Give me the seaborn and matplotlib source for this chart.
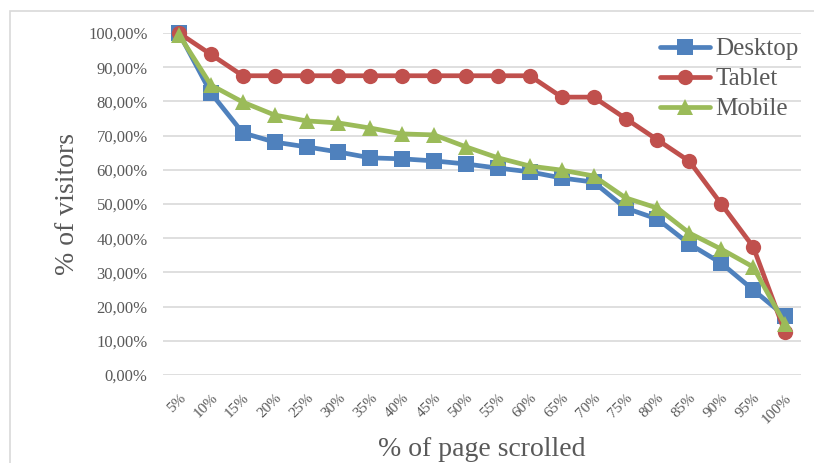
import matplotlib
matplotlib.use("Agg")
import matplotlib.pyplot as plt
import seaborn as sns
import pandas as pd
from matplotlib.patches import Rectangle
from matplotlib.ticker import FuncFormatter

categories = ["5%", "10%", "15%", "20%", "25%", "30%", "35%", "40%", "45%", "50%",
              "55%", "60%", "65%", "70%", "75%", "80%", "85%", "90%", "95%", "100%"]
desktop = [100.0, 82.5, 70.8, 68.1, 66.7, 65.2, 63.5, 63.2, 62.6, 61.7,
           60.5, 59.4, 57.6, 56.4, 48.8, 45.6, 38.3, 32.7, 24.9, 17.2]
tablet = [100.0, 93.75, 87.5, 87.5, 87.5, 87.5, 87.5, 87.5, 87.5, 87.5,
          87.5, 87.5, 81.25, 81.25, 75.0, 68.75, 62.5, 50.0, 37.5, 12.5]
mobile = [99.5, 84.8, 79.8, 76.0, 74.3, 73.7, 72.2, 70.5, 70.2, 66.7,
          63.5, 61.1, 59.9, 58.2, 51.8, 48.8, 41.5, 36.8, 31.6, 14.8]
series_names = ["Desktop", "Tablet", "Mobile"]

rows = []
for name, vals in zip(series_names, [desktop, tablet, mobile]):
    for i, (c, v) in enumerate(zip(categories, vals)):
        rows.append({"pos": i, "cat": c, "series": name, "value": v / 100.0})
df = pd.DataFrame(rows)

sns.set_theme(style="white")
plt.rcParams["font.family"] = ["Liberation Serif", "DejaVu Serif"]

fig = plt.figure(figsize=(8.14, 4.63), dpi=100)
ax = fig.add_axes([163 / 814, 1 - 375 / 463, (801 - 163) / 814, (375 - 33) / 463])

# outer chart frame
fig.patches.append(Rectangle((10 / 814, -0.1), 1.2, 1 - 11 / 463 + 0.1,
                             transform=fig.transFigure, fill=False,
                             edgecolor="#D9D9D9", linewidth=1.2, zorder=0))

palette = {"Desktop": "#4F81BD", "Tablet": "#C0504D", "Mobile": "#9BBB59"}
markers = {"Desktop": "s", "Tablet": "o", "Mobile": "^"}
sns.lineplot(data=df, x="pos", y="value", hue="series", style="series",
             palette=palette, markers=markers, dashes=False, linewidth=3.4,
             markersize=11, markeredgewidth=0, ax=ax, sort=False,
             hue_order=series_names, style_order=series_names)

ax.set_xlim(-0.5, len(categories) - 0.5)
ax.set_ylim(0, 1.0)
ax.set_yticks([i / 10 for i in range(11)])
ax.yaxis.set_major_formatter(FuncFormatter(lambda v, p: f"{v*100:.2f}%".replace(".", ",")))
ax.set_xticks(range(len(categories)))
ax.set_xticklabels(categories, rotation=45, ha="right", rotation_mode="anchor")
ax.tick_params(axis="x", labelsize=11, colors="#595959", length=0, pad=12)
ax.tick_params(axis="y", labelsize=12, colors="#595959", length=0, pad=11)
ax.grid(axis="y", color="#D9D9D9", linewidth=1.2)
ax.grid(axis="x", visible=False)
ax.set_axisbelow(True)
for s in ax.spines.values():
    s.set_visible(False)
for line in ax.lines:
    line.set_clip_on(False)

ax.set_xlabel("% of page scrolled", fontsize=20, color="#595959", labelpad=8)
ax.set_ylabel("% of visitors", fontsize=20, color="#595959", labelpad=6)

leg = ax.legend(loc="upper right", bbox_to_anchor=(1.012, 1.015), frameon=False,
                fontsize=18, handlelength=2.0, handletextpad=0.2,
                labelspacing=0.3, borderaxespad=0.0)
for t in leg.get_texts():
    t.set_color("#595959")
for h in leg.legend_handles:
    h.set_linewidth(3.4)

fig.savefig("out.png", dpi=100)
